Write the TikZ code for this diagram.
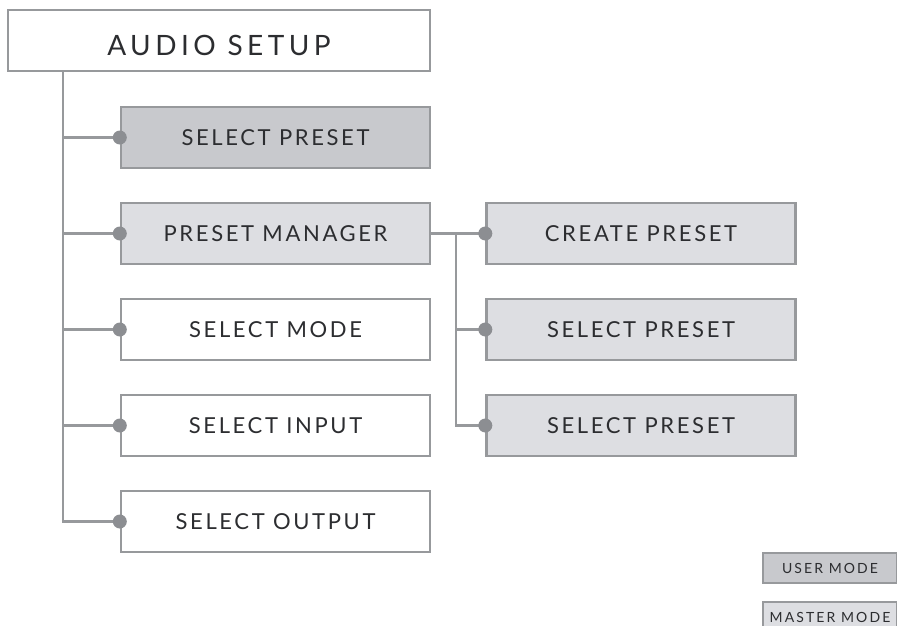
\documentclass[tikz,border=0pt]{standalone}
\usepackage{fontspec}
\setmainfont{Lato}
\newfontfamily\labfont[LetterSpace=12]{Lato}
\newfontfamily\rootfont[LetterSpace=16]{Lato}
\newfontfamily\legfont[LetterSpace=15]{Lato}
\definecolor{edge}{HTML}{97999C}
\definecolor{dotc}{HTML}{8C8E92}
\definecolor{darkfill}{HTML}{C8C9CD}
\definecolor{lightfill}{HTML}{DDDEE2}
\definecolor{txt}{HTML}{2C2D30}
\tikzset{
  box/.style={draw=edge, line width=2.4pt, minimum width=309pt, minimum height=61pt,
    inner sep=0pt, text=txt, font=\labfont\fontsize{22}{25}\selectfont},
  rootbox/.style={box, fill=white, minimum width=422pt, font=\rootfont\fontsize{28}{31}\selectfont},
  plainbox/.style={box, fill=white},
  darkbox/.style={box, fill=darkfill},
  lightbox/.style={box, fill=lightfill},
  legbox/.style={draw=edge, line width=2.4pt, minimum width=134pt, minimum height=30pt,
    inner sep=0pt, text=txt, font=\legfont\fontsize{14}{16}\selectfont},
  conn/.style={draw=edge, line width=2.4pt},
  dotmark/.style={fill=dotc, draw=none},
}
\begin{document}
\begin{tikzpicture}[x=1pt, y=-1pt]
\useasboundingbox (0,0) rectangle (897,625);
% nodes
\node[rootbox] (root) at (219,40.5) {\raisebox{-5pt}[\height][0pt]{AUDIO SETUP}};
\node[darkbox] (sp) at (275.5,137.5) {SELECT PRESET};
\node[lightbox] (pm) at (275.5,233.5) {PRESET MANAGER};
\node[plainbox] (sm) at (275.5,329.5) {SELECT MODE};
\node[plainbox] (si) at (275.5,425.5) {SELECT INPUT};
\node[plainbox] (so) at (275.5,521.5) {SELECT OUTPUT};
\node[lightbox] (cp) at (641,233.5) {CREATE PRESET};
\node[lightbox] (sp2) at (641,329.5) {SELECT PRESET};
\node[lightbox] (sp3) at (641,425.5) {SELECT PRESET};
\node[legbox, fill=darkfill] (um) at (830,568) {USER MODE};
\node[legbox, fill=lightfill] (mm) at (830,617) {MASTER MODE};
% trunks
\coordinate (ltr) at (63,0);
\coordinate (rtr) at (456,0);
\foreach \n in {sp,pm,sm,si,so}{
  \draw[conn] (ltr |- root.south) |- (\n.west);
  \fill[dotmark] (\n.west) circle (7pt);
}
\draw[conn] (pm.east) -- (cp.west);
\foreach \n in {cp,sp2,sp3}{
  \draw[conn] (rtr |- pm.east) |- (\n.west);
  \fill[dotmark] (\n.west) circle (7pt);
}
\end{tikzpicture}
\end{document}
